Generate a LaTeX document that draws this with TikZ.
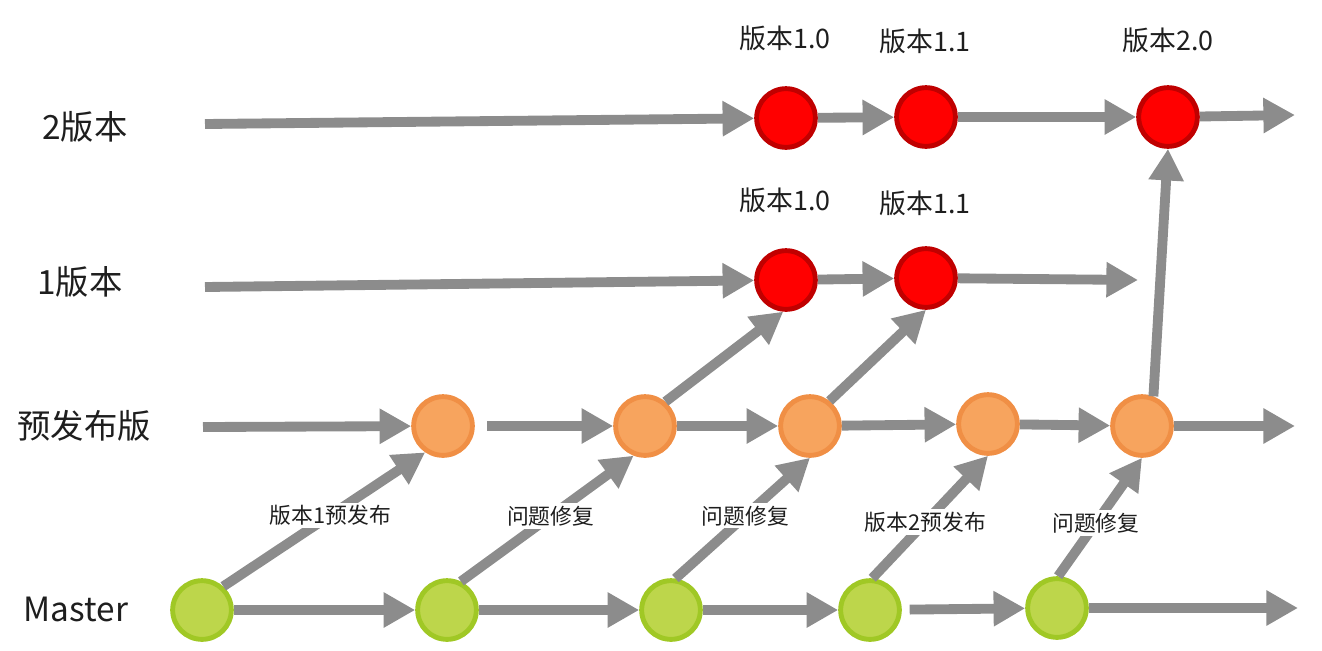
\documentclass[tikz,border=0pt]{standalone}
\usepackage{fontspec}
\setmainfont{Noto Sans CJK SC}
\usetikzlibrary{arrows.meta}
\definecolor{flowgray}{HTML}{8C8C8C}
\definecolor{redfill}{HTML}{FF0000}
\definecolor{redline}{HTML}{C00000}
\definecolor{orangefill}{HTML}{F7A45E}
\definecolor{orangeline}{HTML}{F08F45}
\definecolor{greenfill}{HTML}{BDD64B}
\definecolor{greenline}{HTML}{A0C825}
\definecolor{txt}{HTML}{1E1E1E}
\tikzset{
    commit/.style={circle,inner sep=0pt,minimum size=33.4pt,line width=2.8pt},
    relc/.style={commit,draw=redline,fill=redfill},
    prec/.style={commit,draw=orangeline,fill=orangefill},
    mainc/.style={commit,draw=greenline,fill=greenfill},
    flow/.style={draw=flowgray,line width=5.6pt,-{Triangle[length=18pt,width=19pt]}},
    branchname/.style={text=txt,font=\fontsize{19}{23}\selectfont},
    ver/.style={text=txt,font=\fontsize{15.3}{18}\selectfont},
    msg/.style={text=txt,fill=white,inner sep=1.5pt,font=\fontsize{12.4}{15}\selectfont}
}
\begin{document}
\begin{tikzpicture}[x=0.02cm,y=-0.02cm]
    \useasboundingbox (0,0) rectangle (1322,650);
    % branch names
    \node[branchname] (n2) at (85,127) {2版本};
    \node[branchname] (n1) at (80,282) {1版本};
    \node[branchname] (np) at (84,426) {预发布版};
    \node[branchname] (nm) at (76,609) {Master};
    % commits
    \node[relc] (r2a) at (786,118) {};
    \node[relc] (r2b) at (926,117) {};
    \node[relc] (r2c) at (1168,117) {};
    \node[relc] (r1a) at (786,280) {};
    \node[relc] (r1b) at (926,278) {};
    \node[prec] (p1) at (443,426) {};
    \node[prec] (p2) at (645,426) {};
    \node[prec] (p3) at (810,426) {};
    \node[prec] (p4) at (988,424) {};
    \node[prec] (p5) at (1142,426) {};
    \node[mainc] (m1) at (202,610) {};
    \node[mainc] (m2) at (447,610) {};
    \node[mainc] (m3) at (671,610) {};
    \node[mainc] (m4) at (870,610) {};
    \node[mainc] (m5) at (1057,608) {};
    % version tags
    \node[ver] (v2a) at (785,38) {版本1.0};
    \node[ver] (v2b) at (925,41) {版本1.1};
    \node[ver] (v2c) at (1168,40) {版本2.0};
    \node[ver] (v1a) at (785,200) {版本1.0};
    \node[ver] (v1b) at (925,203) {版本1.1};
    % free ends
    \coordinate (s2) at (205,124);
    \coordinate (s1) at (205,287);
    \coordinate (sp) at (203,427);
    \coordinate (e2) at (1295,115);
    \coordinate (e1) at (1138,280);
    \coordinate (ep) at (1295,426);
    \coordinate (em) at (1298,608);
    % 2版本
    \draw[flow] (s2) -- (r2a);
    \draw[flow] (r2a) -- (r2b);
    \draw[flow] (r2b) -- (r2c);
    \draw[flow] (r2c) -- (e2);
    % 1版本
    \draw[flow] (s1) -- (r1a);
    \draw[flow] (r1a) -- (r1b);
    \draw[flow] (r1b) -- (e1);
    % 预发布版
    \draw[flow] (sp) -- (p1);
    \draw[flow,shorten <=7pt] (p1) -- (p2);
    \draw[flow] (p2) -- (p3);
    \draw[flow] (p3) -- (p4);
    \draw[flow] (p4) -- (p5);
    \draw[flow] (p5) -- (ep);
    % Master
    \draw[flow] (m1) -- (m2);
    \draw[flow] (m2) -- (m3);
    \draw[flow] (m3) -- (m4);
    \draw[flow,shorten <=4.5pt] (m4) -- (m5);
    \draw[flow] (m5) -- (em);
    % merges
    \draw[flow] (m1.48) -- node[msg,pos=0.53] (t1) {版本1预发布} (p1.236);
    \draw[flow] (m2.64) -- node[msg,pos=0.52] (t2) {问题修复} (p2.249);
    \draw[flow] (m3.82) -- node[msg,pos=0.52] (t3) {问题修复} (p3.270);
    \draw[flow] (m4.86) -- node[msg,pos=0.46] (t4) {版本2预发布} (p4.270);
    \draw[flow] (m5.88) -- node[msg,pos=0.45] (t5) {问题修复} (p5.270);
    \draw[flow] (p2.50) -- (r1a.265);
    \draw[flow] (p3.52) -- (r1b.270);
    \draw[flow] (p5.69) -- (r2c.270);
\end{tikzpicture}
\end{document}
